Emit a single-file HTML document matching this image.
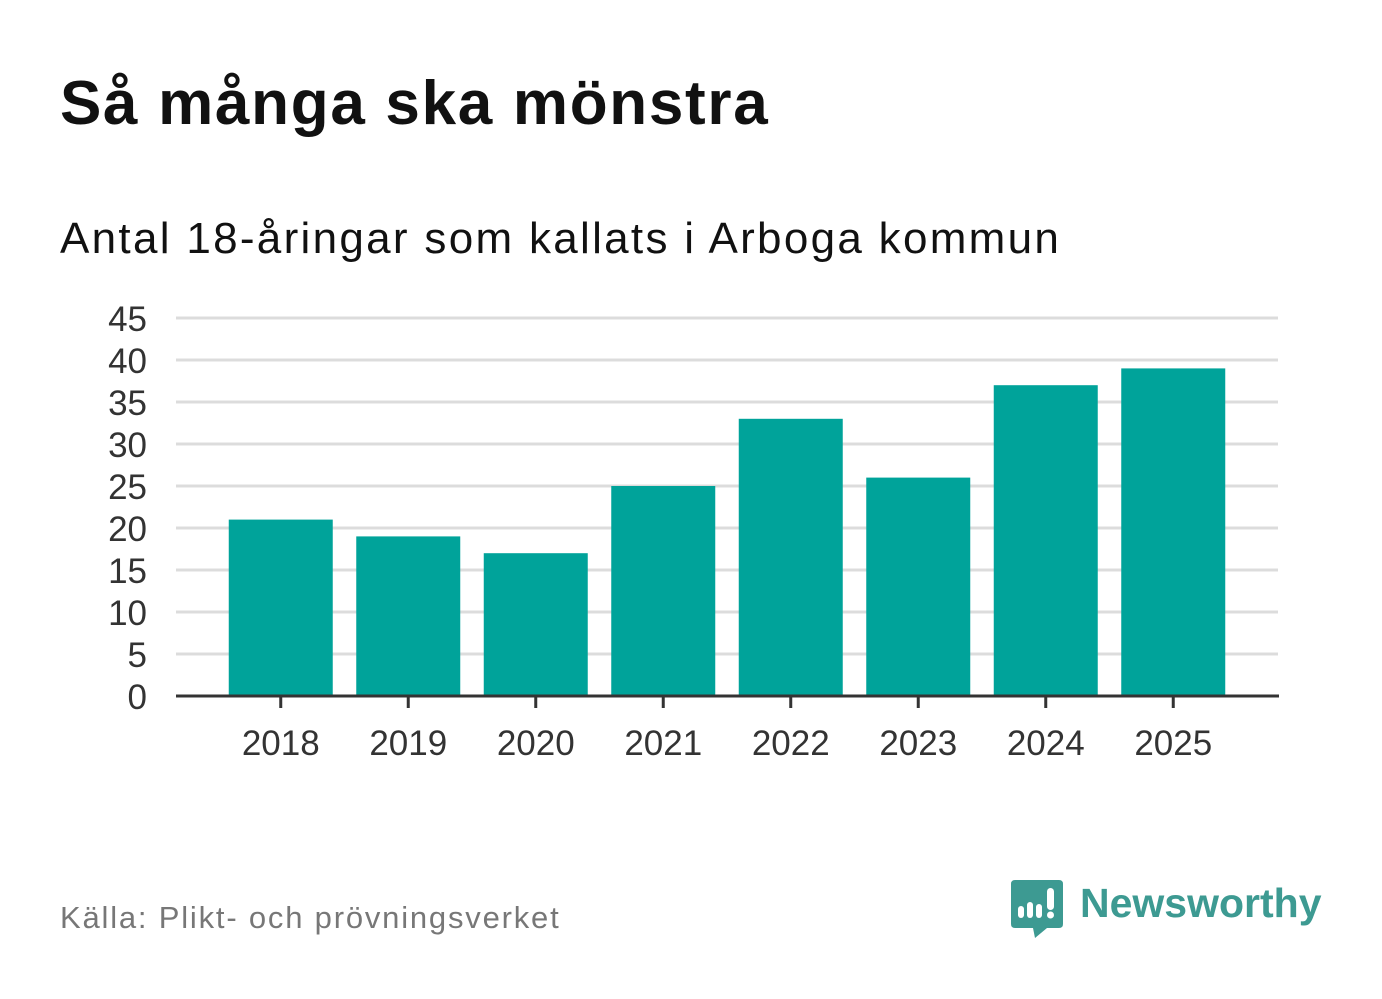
<!DOCTYPE html>
<html><head><meta charset="utf-8"><style>
body{margin:0;width:1382px;height:999px;background:#fff;font-family:"Liberation Sans","DejaVu Sans",sans-serif;overflow:hidden;position:relative}
.t{position:absolute;white-space:nowrap}
</style></head><body>
<div class="t" style="left:60px;top:68px;font-size:62px;font-weight:bold;color:#111;letter-spacing:1.7px">Så många ska mönstra</div>
<div class="t" style="left:60px;top:214px;font-size:44px;color:#111;letter-spacing:2.3px">Antal 18-åringar som kallats i Arboga kommun</div>
<svg id="chart" width="1382" height="999" style="position:absolute;left:0;top:0"></svg>
<div class="t" style="left:60px;top:900px;font-size:31px;color:#777;letter-spacing:1.8px">Källa: Plikt- och prövningsverket</div>
<svg width="54" height="62" style="position:absolute;left:1011px;top:880px">
<path d="M4 0H48Q52 0 52 4V44Q52 48 48 48H36L24 58L22 48H4Q0 48 0 44V4Q0 0 4 0Z" fill="#3d9a92"/>
<rect x="7" y="26" width="6" height="12" rx="3" fill="#fff"/><rect x="16" y="22" width="6" height="16" rx="3" fill="#fff"/><rect x="25" y="24" width="6" height="14" rx="3" fill="#fff"/><rect x="36" y="8" width="7" height="22" rx="3.5" fill="#fff"/><circle cx="39.5" cy="35" r="3.5" fill="#fff"/>
</svg>
<div class="t" style="left:1080px;top:880px;font-size:41px;font-weight:bold;color:#3d9a92">Newsworthy</div>
<script>
const categories=["2018","2019","2020","2021","2022","2023","2024","2025"];
const values=[21,19,17,25,33,26,37,39];
const yTicks=[0,5,10,15,20,25,30,35,40,45];
const svg=document.getElementById('chart');
const NS='http://www.w3.org/2000/svg';
const y0=696,yTop=318,yMax=45;
function y(v){return y0-(v/yMax)*(y0-yTop);}
const bandStart=217,bandW=127.5,barW=104;
function x(i){return bandStart+bandW*i+bandW/2;}
function el(t,a){const e=document.createElementNS(NS,t);for(const k in a)e.setAttribute(k,a[k]);svg.appendChild(e);return e;}
yTicks.forEach(v=>{
 if(v>0){const g=el('line',{x1:176,x2:1278,y1:y(v),y2:y(v),stroke:'#dcdcdc','stroke-width':3});
 
 }
 const t=el('text',{x:147,y:y(v)+13,'text-anchor':'end','font-size':35,fill:'#333','font-family':'Liberation Sans, sans-serif'});
 t.textContent=v;
 
 
});
values.forEach((v,i)=>{
 const r=el('rect',{x:x(i)-barW/2,y:y(v),width:barW,height:y0-y(v),fill:'#00a39a'});
 
 
 const tk=el('line',{x1:x(i),x2:x(i),y1:y0,y2:y0+12,stroke:'#333','stroke-width':3});
 
 
 const t=el('text',{x:x(i),y:y0+59,'text-anchor':'middle','font-size':35,fill:'#333','font-family':'Liberation Sans, sans-serif'});
 t.textContent=categories[i];
 
 
});
const ax=el('line',{x1:176,x2:1279,y1:y0,y2:y0,stroke:'#333','stroke-width':3});


</script>
</body></html>
